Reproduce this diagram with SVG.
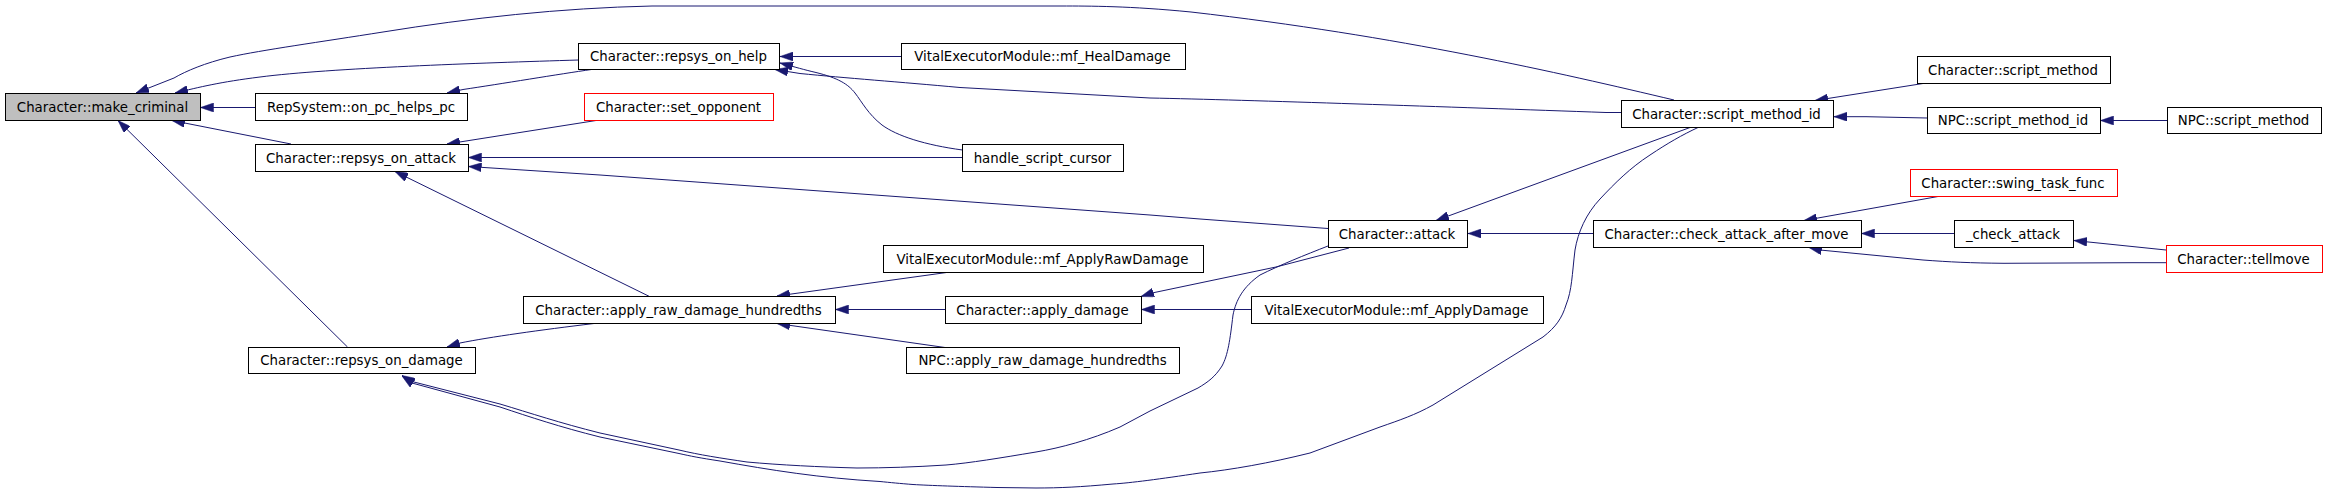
<svg xmlns="http://www.w3.org/2000/svg" width="2328" height="494" viewBox="0 0 2328 494">
<style>
.n rect{fill:#ffffff;stroke:#000000;stroke-width:1}
.n.root rect{fill:#bfbfbf}
.n.red rect{stroke:#ff0000}
.n text{font-family:"DejaVu Sans","Liberation Sans",sans-serif;font-size:13.33px;fill:#000000;text-anchor:middle}
#edges path{fill:none;stroke:#191970;stroke-width:1;marker-end:url(#ah)}
</style>
<defs>
<marker id="ah" markerUnits="userSpaceOnUse" viewBox="0 0 13 9" markerWidth="13" markerHeight="9" refX="13" refY="4.5" orient="auto">
<path d="M0,0 L13,4.5 L0,9 Z" fill="#191970" stroke="#191970" stroke-width="0.5"/>
</marker>
</defs>
<rect x="0" y="0" width="2328" height="494" fill="#ffffff"/>
<g id="edges">
<path d="M578.5,60 C480,63 330,68 260,77 C220,82 200,87 175,93"/>
<path d="M1674,100 C1560,73 1400,36 1191,12 C1130,6 1090,6 1061,6 L652,6 C560,8 470,18 383,32 C320,42 262,50 230,57 C205,63 186,71 174,78 L136,93"/>
<path d="M255,107.5 L200.5,107.5"/>
<path d="M291,144 L172,120.5"/>
<path d="M347.5,347 L118,120.5"/>
<path d="M591.5,69.5 C560,74 500,84 463,89.5 L447,93"/>
<path d="M596,120.5 L447,144"/>
<path d="M962.5,157.5 L468.5,157.5"/>
<path d="M1328,228.5 L1200,219 L1150,215 L600,175 L468.5,166.5"/>
<path d="M649.5,296.5 L395,171.5"/>
<path d="M901.5,56.5 L780,56.5"/>
<path d="M1621,112.5 L1606,112.5 C1450,107 1250,100 1150,98 L960,87.5 C900,82 845,78 800,73.5 L775,69.5"/>
<path d="M962.5,150 C925,145 897,136 882,125 C868,114 862,102 855,93 C848,84 838,78 816,72.5 C805,70 795,67 780,63"/>
<path d="M946.5,272.5 L777,296"/>
<path d="M945.5,309.5 L835.5,309.5"/>
<path d="M945,347.5 L777,323.5"/>
<path d="M1349,248 L1276,267 L1152,293 L1141,296.5"/>
<path d="M1251.5,309.5 L1141.5,309.5"/>
<path d="M594,323.5 C540,330 490,337 460,343 L447,347"/>
<path d="M1328,246 C1305,255 1280,265 1260,275 C1243,287 1236,300 1233,315 C1230,340 1228,355 1222,366 C1215,377 1208,382 1198,388 L1150,411 C1140,416 1130,422 1120,427 C1090,440 1060,448 1036,452 C1000,458 970,463 946,465 C915,467 885,468 857,468 C820,467 780,465 747,462 C720,458 700,455 679,450 L600,433 C560,423 530,413 500,404 L412,381.5 L402,375.5"/>
<path d="M1698,127.5 C1682,135 1668,143 1650,155 C1630,168 1615,183 1600,199 C1586,214 1578,232 1575,250 C1572,275 1572,290 1566,305 C1562,318 1556,327 1543,337 L1433,405 C1415,415 1400,420 1380,427 L1310,453 C1270,463 1230,470 1200,473 C1160,479 1130,483 1113,484 C1080,487 1060,488 1036,488 L997,487.5 C960,486.5 930,485.5 913,484.5 C900,483.5 890,482.5 880,481.5 C820,478 770,470 720,461 C700,458 690,456 679,453.5 L600,437 C560,427 530,417 500,407 L412,383 L402,376"/>
<path d="M1690,127.5 L1436,220.5"/>
<path d="M1593,233.5 L1468,233.5"/>
<path d="M1923,83.5 L1815,100.5"/>
<path d="M1927,118 L1866,116.7 L1834,116.7"/>
<path d="M2167,120.5 L2100.5,120.5"/>
<path d="M1938,196.5 L1804,220.5"/>
<path d="M1954,233.5 L1861.5,233.5"/>
<path d="M2166,250 L2074,240.5"/>
<path d="M2166,262.7 L2133,262.7 L2004,263.3 C1970,263 1950,262 1923,260 L1820,250 L1809,247.5"/>
</g>
<g id="n_make_criminal" class="n root"><rect x="5.5" y="93.5" width="195" height="27"/><text x="102.5" y="111.8">Character::make_criminal</text></g>
<g id="n_on_pc_helps_pc" class="n"><rect x="255.5" y="93.5" width="212" height="27"/><text x="361" y="111.8">RepSystem::on_pc_helps_pc</text></g>
<g id="n_repsys_on_attack" class="n"><rect x="255.5" y="144.5" width="213" height="27"/><text x="361" y="162.8">Character::repsys_on_attack</text></g>
<g id="n_repsys_on_damage" class="n"><rect x="248.5" y="347.5" width="227" height="26"/><text x="361.5" y="365.3">Character::repsys_on_damage</text></g>
<g id="n_repsys_on_help" class="n"><rect x="578.5" y="43.5" width="201" height="26"/><text x="678.5" y="61.3">Character::repsys_on_help</text></g>
<g id="n_set_opponent" class="n red"><rect x="584.5" y="93.5" width="189" height="27"/><text x="678.5" y="111.8">Character::set_opponent</text></g>
<g id="n_mf_HealDamage" class="n"><rect x="901.5" y="43.5" width="284" height="26"/><text x="1042.5" y="61.3">VitalExecutorModule::mf_HealDamage</text></g>
<g id="n_handle_script_cursor" class="n"><rect x="962.5" y="144.5" width="161" height="27"/><text x="1042.5" y="162.8">handle_script_cursor</text></g>
<g id="n_apply_raw_damage_hundredths" class="n"><rect x="523.5" y="296.5" width="312" height="27"/><text x="678.5" y="314.8">Character::apply_raw_damage_hundredths</text></g>
<g id="n_mf_ApplyRawDamage" class="n"><rect x="883.5" y="245.5" width="320" height="27"/><text x="1042.5" y="263.8">VitalExecutorModule::mf_ApplyRawDamage</text></g>
<g id="n_apply_damage" class="n"><rect x="945.5" y="296.5" width="196" height="27"/><text x="1042.5" y="314.8">Character::apply_damage</text></g>
<g id="n_npc_apply_raw_damage_hundredths" class="n"><rect x="906.5" y="347.5" width="273" height="26"/><text x="1042.5" y="365.3">NPC::apply_raw_damage_hundredths</text></g>
<g id="n_attack" class="n"><rect x="1328.5" y="220.5" width="139" height="27"/><text x="1397" y="238.8">Character::attack</text></g>
<g id="n_mf_ApplyDamage" class="n"><rect x="1251.5" y="296.5" width="292" height="27"/><text x="1396.5" y="314.8">VitalExecutorModule::mf_ApplyDamage</text></g>
<g id="n_script_method_id" class="n"><rect x="1621.5" y="100.5" width="212" height="27"/><text x="1726.5" y="118.8">Character::script_method_id</text></g>
<g id="n_check_attack_after_move" class="n"><rect x="1593.5" y="220.5" width="268" height="27"/><text x="1726.5" y="238.8">Character::check_attack_after_move</text></g>
<g id="n_script_method" class="n"><rect x="1917.5" y="56.5" width="193" height="27"/><text x="2013" y="74.8">Character::script_method</text></g>
<g id="n_npc_script_method_id" class="n"><rect x="1927.5" y="107.5" width="173" height="26"/><text x="2013" y="125.3">NPC::script_method_id</text></g>
<g id="n_npc_script_method" class="n"><rect x="2167.5" y="107.5" width="154" height="26"/><text x="2243.5" y="125.3">NPC::script_method</text></g>
<g id="n_swing_task_func" class="n red"><rect x="1910.5" y="169.5" width="207" height="27"/><text x="2013" y="187.8">Character::swing_task_func</text></g>
<g id="n_check_attack" class="n"><rect x="1954.5" y="220.5" width="119" height="27"/><text x="2013" y="238.8">_check_attack</text></g>
<g id="n_tellmove" class="n red"><rect x="2166.5" y="245.5" width="156" height="27"/><text x="2243.5" y="263.8">Character::tellmove</text></g>
</svg>
